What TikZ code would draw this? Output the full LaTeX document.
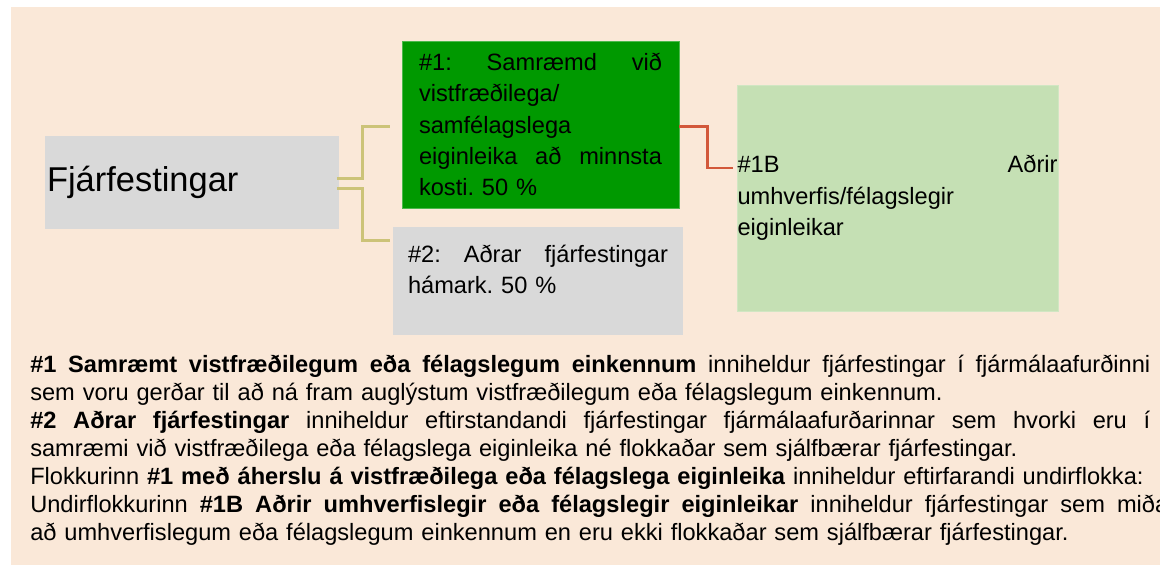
\documentclass[tikz,border=0pt]{standalone}
\usepackage{fontspec}
\setmainfont{Liberation Sans}
\usepackage{xcolor}
\usetikzlibrary{positioning, calc}

\definecolor{peach}{RGB}{250,232,216}
\definecolor{boxgray}{RGB}{217,217,217}
\definecolor{darkgrn}{RGB}{0,153,0}
\definecolor{palegrn}{RGB}{197,224,180}
\definecolor{olivelink}{RGB}{204,195,120}
\definecolor{redlink}{RGB}{210,88,58}

% one justified line of a given width
\newcommand{\fullline}[2]{\leavevmode{\spaceskip=0.278em plus 1fil\relax\hbox to #1{#2}}}

\begin{document}
\frenchspacing
\begin{tikzpicture}[
	% Box styles
	fundbox/.style={fill=boxgray, minimum width=7.35cm, minimum height=2.325cm, text width=7.25cm, inner xsep=0.05cm, align=left, font=\fontsize{24.5}{29}\selectfont},
	catbox/.style={fill=darkgrn, draw=darkgrn!70!white, line width=0.5pt, minimum width=6.925cm, minimum height=4.175cm, text width=6.075cm, align=left, font=\fontsize{16.8}{22.3}\selectfont},
	restbox/.style={fill=boxgray, minimum width=7.25cm, minimum height=2.7cm, text width=6.5cm, align=left, font=\fontsize{16.8}{22.3}\selectfont},
	subbox/.style={fill=palegrn, draw=palegrn!80!white, line width=0.5pt, minimum width=8.025cm, minimum height=5.65cm, text width=8cm, inner xsep=0pt, align=left, font=\fontsize{16.8}{22.3}\selectfont},
	% Link styles
	olive link/.style={draw=olivelink, line width=2pt},
	red link/.style={draw=redlink, line width=2pt},
	% Text styles
	notes/.style={text width=29cm, inner sep=0pt, align=left, font=\fontsize{16.8}{19.9}\selectfont}
	]
	
	\useasboundingbox (0,0) rectangle (29,-14.125);
	\fill[peach] (0.275,-0.175) rectangle (29.3,-14.3);
	
	% ==============================================================================
	% BOXES
	% ==============================================================================
	\node[fundbox] (inv) at (4.8,-4.5625) {Fjárfestingar};
	
	\node[catbox] (grn) at (13.5125,-3.1125) {
		\fullline{6.075cm}{\#1: Samræmd við}\\
		vistfræðilega/\\
		samfélagslega\\
		\fullline{6.075cm}{eiginleika að minnsta}\\
		kosti. 50 \%};
	
	\node[restbox] (oth) at (13.45,-7.025) {
		\fullline{6.5cm}{\#2: Aðrar fjárfestingar}\\
		hámark. 50 \%\rule[-17pt]{0pt}{17pt}};
	
	\node[subbox] (sub) at (22.4375,-4.95) {
		\fullline{8cm}{\#1B Aðrir}\\
		umhverfis/félagslegir\\
		eiginleikar};
	
	% ==============================================================================
	% LINKS
	% ==============================================================================
	\coordinate (to grn) at ($(grn.west)+(-0.3,-0.04)$);
	\coordinate (to oth) at ($(oth.north west)+(-0.075,-0.35)$);
	\coordinate (to sub) at ($(sub.west)+(-0.1,0.75)$);
	
	\draw[olive link] ($(inv.east)+(-0.05,0.11)$) -- ++(0.625,0) |- (to grn);
	\draw[olive link] ($(inv.east)+(-0.05,-0.14)$) -- ++(0.625,0) |- (to oth);
	\draw[red link] ($(grn.east)+(0,-0.04)$) -- ++(0.7,0) |- (to sub);
	
	% ==============================================================================
	% NOTES
	% ==============================================================================
	\node[notes, anchor=base west] (txt) at (0.75,-9.325) {
		\fullline{28cm}{\textbf{\#1 Samræmt vistfræðilegum eða félagslegum einkennum} inniheldur fjárfestingar í fjármálaafurðinni}\\
		sem voru gerðar til að ná fram auglýstum vistfræðilegum eða félagslegum einkennum.\\
		\fullline{28cm}{\textbf{\#2 Aðrar fjárfestingar} inniheldur eftirstandandi fjárfestingar fjármálaafurðarinnar sem hvorki eru í}\\
		samræmi við vistfræðilega eða félagslega eiginleika né flokkaðar sem sjálfbærar fjárfestingar.\\
		Flokkurinn \textbf{\#1 með áherslu á vistfræðilega eða félagslega eiginleika} inniheldur eftirfarandi undirflokka:\\
		\fullline{28.45cm}{Undirflokkurinn \textbf{\#1B Aðrir umhverfislegir eða félagslegir eiginleikar} inniheldur fjárfestingar sem miða}\\
		að umhverfislegum eða félagslegum einkennum en eru ekki flokkaðar sem sjálfbærar fjárfestingar.};
	
\end{tikzpicture}
\end{document}
